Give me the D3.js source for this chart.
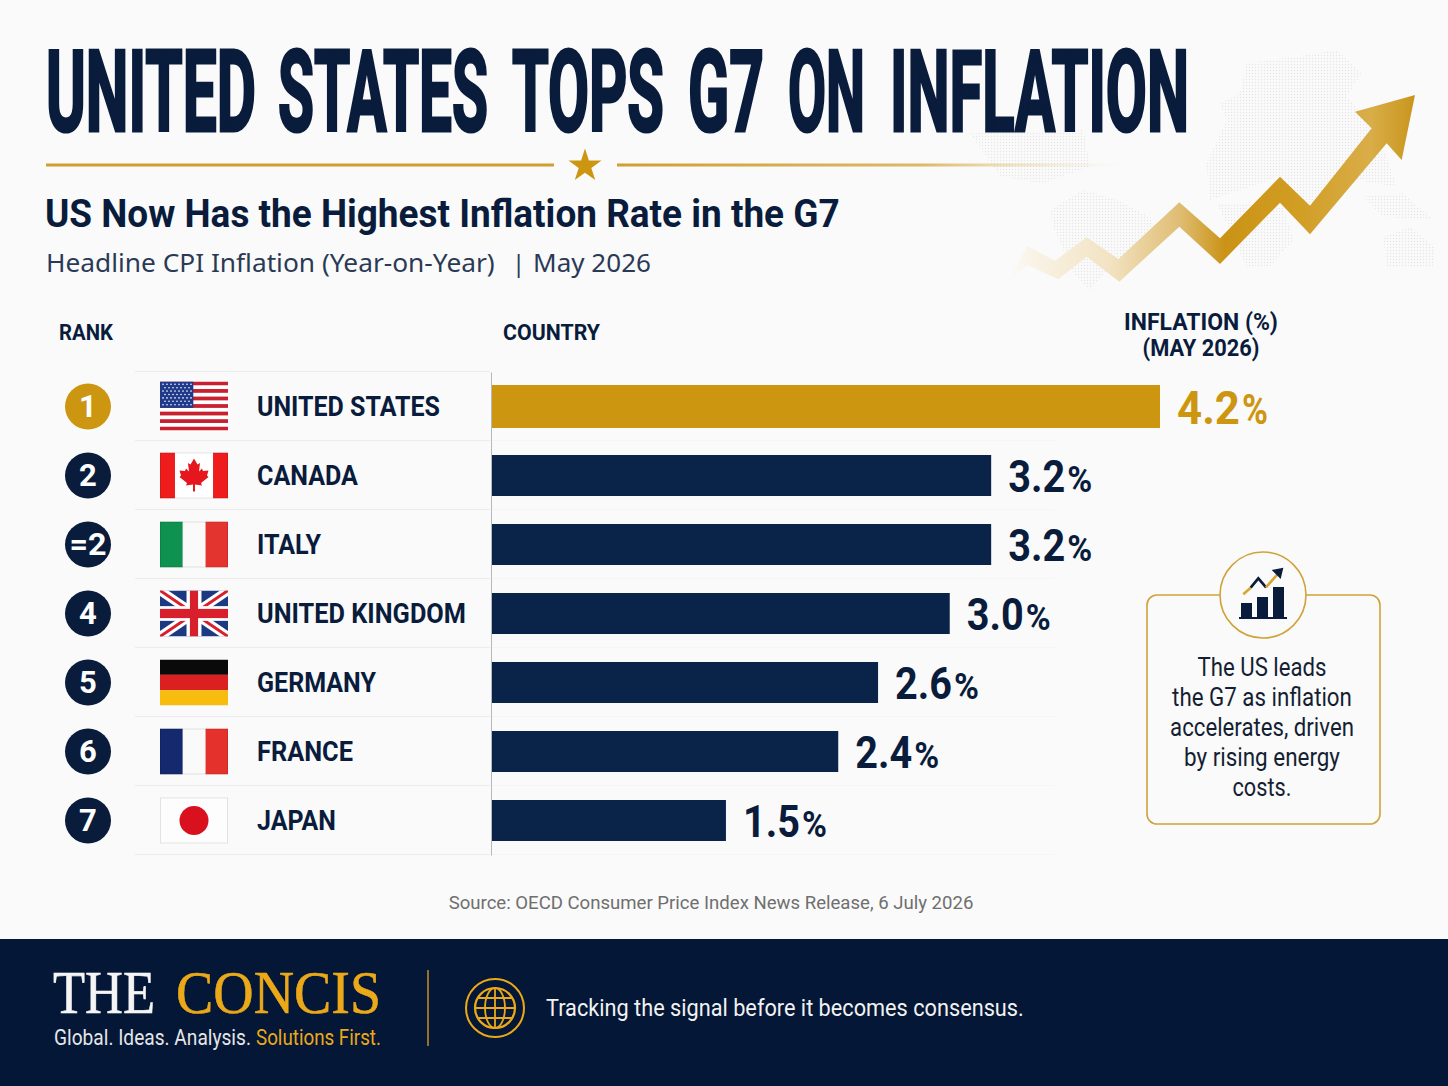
<!DOCTYPE html>
<html>
<head>
<meta charset="utf-8">
<script src="https://cdnjs.cloudflare.com/ajax/libs/d3/7.8.5/d3.min.js"></script>
<style>
   html, body { margin: 0; padding: 0; background: #fafafa; }
   svg { display: block; }
   text { font-family: Roboto, sans-serif; }
</style>
</head>
<body>
<script>
var ranks = ["1", "2", "=2", "4", "5", "6", "7"];
var countries = ["UNITED STATES", "CANADA", "ITALY", "UNITED KINGDOM", "GERMANY", "FRANCE", "JAPAN"];
var countryWidths = [183, 101, 64, 209, 119, 96, 79];
var flags = ["us", "ca", "it", "uk", "de", "fr", "jp"];
// printed labels
var inflation = [4.2, 3.2, 3.2, 3.0, 2.6, 2.4, 1.5];
// the drawn bars in the picture are not quite in proportion to their labels,
// these are the lengths, in the same percent units
var barLengths = [4.2, 3.14, 3.14, 2.88, 2.43, 2.18, 1.475];
var calloutLines = ["The US leads", "the G7 as inflation", "accelerates, driven", "by rising energy", "costs."];
var calloutWidths = [129, 180, 184, 156, 59];
var titleWords = ["UNITED", "STATES", "TOPS", "G7", "ON", "INFLATION"];
var titleStarts = [46, 278, 512, 688, 788, 890];
var titleWidths = [210, 210, 152, 76, 77, 299];

var navy = "#0a2348", ink = "#0a1c3c", gold = "#cd9610";
var noto = "'Noto Sans', sans-serif", serif = "'Liberation Serif', serif";
var width = 1448, height = 1086;

var svg = d3.select("body").append("svg")
   .attr("width", width)
   .attr("height", height);
var defs = svg.append("defs");

svg.append("rect").attr("width", width).attr("height", height).style("fill", "#fafafa");

// draw a text and squeeze it to the width it has in the picture
function label(parent, x, y, str, size, weight, color, fit, anchor, family) {
   var t = parent.append("text")
      .style("font-size", size + "px")
      .style("font-weight", weight)
      .style("fill", color)
      .attr("text-anchor", anchor || "start")
      .text(str);
   if (family) t.style("font-family", family);
   squeeze(t, x, y, fit);
   return t;
}
function squeeze(t, x, y, fit) {
   var k = fit ? fit / t.node().getComputedTextLength() : 1;
   t.attr("transform", "translate(" + x + "," + y + ") scale(" + k + ",1)");
}

/* ---------- dotted map behind the arrow ---------- */
var dots = defs.append("pattern").attr("id", "dots")
   .attr("width", 3).attr("height", 3).attr("patternUnits", "userSpaceOnUse");
dots.append("circle").attr("cx", 1.5).attr("cy", 1.5).attr("r", 0.65).style("fill", "#c4c7cc");

var mapBlobs = [
   [[890,130],[1040,110],[1160,90],[1235,160],[1190,230],[1280,330],[1340,500],[1220,480],[1150,540],[1080,560],[990,470],[780,540],[770,430],[830,300],[810,250],[870,220]],
   [[800,550],[1000,560],[1030,660],[960,740],[890,745],[850,650]],
   [[1240,530],[1360,520],[1450,600],[1300,590]],
   [[1300,650],[1380,620],[1455,680],[1450,740],[1310,740]],
   [[300,570],[400,510],[500,540],[600,590],[620,640],[500,720],[420,810],[370,760],[310,620]],
   [[60,340],[400,330],[420,440],[280,490],[150,470]]
];
var crop = function (p) { return [950 + p[0] / 3, 20 + p[1] / 3]; };
var closedLine = d3.line().curve(d3.curveLinearClosed);
svg.append("g").style("opacity", 0.4).selectAll("path")
   .data(mapBlobs).enter().append("path")
   .attr("d", function (d) { return closedLine(d.map(crop)); })
   .style("fill", "url(#dots)");

/* ---------- rising arrow ---------- */
var arrowGrad = defs.append("linearGradient").attr("id", "arrowGrad")
   .attr("gradientUnits", "userSpaceOnUse")
   .attr("x1", 1005).attr("x2", 1416).attr("y1", 0).attr("y2", 0);
[[0, "#fbf8f0", 0], [0.06, "#f9f4e8", 1], [0.255, "#f2e3c2", 1], [0.425, "#dfbd73", 1],
 [0.535, "#ca9316", 1], [0.69, "#d09c20", 1], [0.89, "#d9ad48", 1], [1, "#c8951c", 1]].forEach(function (s) {
   arrowGrad.append("stop").attr("offset", s[0]).attr("stop-color", s[1]).attr("stop-opacity", s[2]);
});
var arrowOutline = [[170,790],[232,678],[315,722],[410,652],[505,717],[688,547],[810,655],[990,470],[1080,557],
   [1265,325],[1215,275],[1395,225],[1355,420],[1310,370],[1080,643],[990,548],[810,732],[688,620],[508,785],
   [410,710],[325,778],[232,735]];
svg.append("path").attr("d", closedLine(arrowOutline.map(crop))).style("fill", "url(#arrowGrad)");

/* ---------- heading ---------- */
titleWords.forEach(function (w, i) {
   label(svg, titleStarts[i], 130.5, w, 114, 700, ink, titleWidths[i], "start", "'Liberation Sans Narrow', Roboto, sans-serif")
      .style("stroke", ink).style("stroke-width", 3.2).style("stroke-linejoin", "miter");
});

var ruleGrad = defs.append("linearGradient").attr("id", "ruleGrad");
ruleGrad.append("stop").attr("offset", 0).attr("stop-color", "#cf9f30");
ruleGrad.append("stop").attr("offset", 0.6).attr("stop-color", "#dcb867");
ruleGrad.append("stop").attr("offset", 1).attr("stop-color", "#f3e6c8").attr("stop-opacity", 0);
svg.append("rect").attr("x", 46).attr("y", 163.5).attr("width", 508).attr("height", 3).style("fill", "#cf9f30");
svg.append("rect").attr("x", 617).attr("y", 163.5).attr("width", 510).attr("height", 3).style("fill", "url(#ruleGrad)");
svg.append("path")
   .attr("d", d3.symbol().type(d3.symbolStar).size(340)())
   .attr("transform", "translate(585,166)")
   .style("fill", gold);

label(svg, 45, 227, "US Now Has the Highest Inflation Rate in the G7", 38, 700, ink, 795);
label(svg, 46, 272, "Headline CPI Inflation (Year-on-Year)", 25, 400, "#2a3a56", 449, "start", noto);
label(svg, 512, 272, "|", 24, 400, "#2a3a56", null, "start", noto);
label(svg, 533, 272, "May 2026", 25, 400, "#2a3a56", 118, "start", noto);

/* ---------- table header ---------- */
label(svg, 59, 340, "RANK", 22, 700, ink, 54);
label(svg, 503, 340, "COUNTRY", 22, 700, ink, 97);
label(svg, 1201, 330, "INFLATION (%)", 24, 700, ink, 154, "middle");
label(svg, 1201, 356, "(MAY 2026)", 24, 700, ink, 117, "middle");

/* ---------- scales ---------- */
var x = d3.scaleLinear().domain([0, 4.2]).range([491, 1160]);
var y = d3.scaleBand().domain(countries).range([372, 855]);

// row separators
var seps = d3.range(countries.length + 1).map(function (i) { return 372 + i * y.step() - 0.5; });
svg.append("g").selectAll("line").data(seps).enter().append("line")
   .attr("x1", 135).attr("x2", 490)
   .attr("y1", function (d) { return d; }).attr("y2", function (d) { return d; })
   .style("stroke", "#ececec");
svg.append("g").selectAll("line").data(seps.slice(1)).enter().append("line")
   .attr("x1", 491).attr("x2", 1055)
   .attr("y1", function (d) { return d; }).attr("y2", function (d) { return d; })
   .style("stroke", "#f5f5f5");

// bars
var barH = function (i) { return i === 0 ? 43 : 41; };
svg.append("g").selectAll("rect").data(barLengths).enter().append("rect")
   .attr("x", x(0))
   .attr("y", function (d, i) { return y(countries[i]) + y.bandwidth() / 2 - barH(i) / 2; })
   .attr("width", function (d) { return x(d) - x(0); })
   .attr("height", function (d, i) { return barH(i); })
   .style("fill", function (d, i) { return i === 0 ? gold : navy; });

// axis line down the left of the bars, no ticks
svg.append("g").attr("transform", "translate(491,0)")
   .call(d3.axisLeft(y).tickSize(0).tickFormat(""))
   .call(function (g) { g.select(".domain").style("stroke", "#b5b8bd").style("stroke-width", 1); });

// rows
var rows = svg.append("g").selectAll("g").data(countries).enter().append("g")
   .attr("transform", function (d) { return "translate(0," + (y(d) + y.bandwidth() / 2) + ")"; });

rows.append("circle").attr("cx", 88).attr("r", 23)
   .style("fill", function (d, i) { return i === 0 ? gold : ink; });

var fmt = d3.format(".1f");
rows.each(function (d, i) {
   var row = d3.select(this);
   label(row, 88, 10.5, ranks[i], 31, 700, "#fff", ranks[i].length > 1 ? 37 : null, "middle");
   label(row, 257, 9.5, d, 28, 700, ink, countryWidths[i]);
   // value label: number and % sign are squeezed separately
   var lx = x(barLengths[i]) + 17;
   var ly = i === 0 ? 17 : 16.5;
   var col = i === 0 ? gold : ink;
   label(row, lx, ly, fmt(inflation[i]), i === 0 ? 46 : 44, 700, col, i === 0 ? 63 : 57);
   label(row, lx + (i === 0 ? 65 : 59), ly, "%", i === 0 ? 42 : 36, 700, col, i === 0 ? 26 : 25);
});

/* ---------- flags ---------- */
function drawFlag(g, code) {
   var W = 68, H = code === "us" ? 49 : 46, x0 = 160, y0 = code === "us" ? -25 : -23;
   var id = "clip-" + code;
   defs.append("clipPath").attr("id", id).append("rect").attr("x", x0).attr("y", y0).attr("width", W).attr("height", H);
   var f = g.append("g").attr("clip-path", "url(#" + id + ")");
   var box = function (fx, fy, fw, fh, col) {
      f.append("rect").attr("x", x0 + fx * W).attr("y", y0 + fy * H).attr("width", fw * W).attr("height", fh * H).style("fill", col);
   };
   var edge = function () {
      g.append("rect").attr("x", x0 + 0.5).attr("y", y0 + 0.5).attr("width", W - 1).attr("height", H - 1)
         .style("fill", "none").style("stroke", "#000").style("stroke-opacity", 0.1);
   };
   if (code === "us") {
      box(0, 0, 1, 1, "#fff");
      d3.range(0, 13, 2).forEach(function (i) { box(0, i / 13, 1, 1 / 13, "#c8202f"); });
      box(0, 0, 0.49, 7 / 13, "#1f3a8a");
      d3.range(7).forEach(function (r) {
         d3.range(r % 2 ? 7 : 8).forEach(function (c) {
            f.append("circle").attr("cx", x0 + 3 + (r % 2 ? 2 : 0) + c * 4).attr("cy", y0 + 2.8 + r * 3.4).attr("r", 0.8).style("fill", "#fff");
         });
      });
   } else if (code === "ca") {
      box(0, 0, 1, 1, "#fff");
      box(0, 0, 0.22, 1, "#ee1c1c");
      box(0.78, 0, 0.22, 1, "#ee1c1c");
      var half = [[0,-17],[3.5,-11],[6,-12.5],[5,-4],[8,-7],[9,-4.5],[14.5,-5],[13,0],[14.5,1.5],[7,7.5],[8,10],[1,9],[1,16]];
      var leaf = half.concat(half.slice(1).reverse().map(function (p) { return [-p[0], p[1]]; }));
      f.append("path").attr("d", closedLine(leaf)).attr("transform", "translate(" + (x0 + W / 2) + ",0)").style("fill", "#e5161d");
      edge();
   } else if (code === "it") {
      box(0, 0, 0.335, 1, "#0f9150");
      box(0.335, 0, 0.335, 1, "#fafafa");
      box(0.67, 0, 0.33, 1, "#e3342f");
      edge();
   } else if (code === "uk") {
      box(0, 0, 1, 1, "#1c3a82");
      var diag = function (col, w) {
         [[0, 0, W, H], [W, 0, 0, H]].forEach(function (l) {
            f.append("line").attr("x1", x0 + l[0]).attr("y1", y0 + l[1]).attr("x2", x0 + l[2]).attr("y2", y0 + l[3])
               .style("stroke", col).style("stroke-width", w);
         });
      };
      diag("#fff", 9);
      diag("#d8202c", 3);
      box(0, 0.34, 1, 0.32, "#fff");
      box(0.39, 0, 0.22, 1, "#fff");
      box(0, 0.4, 1, 0.2, "#d8202c");
      box(0.44, 0, 0.12, 1, "#d8202c");
   } else if (code === "de") {
      box(0, 0, 1, 1 / 3, "#0a0a0a");
      box(0, 1 / 3, 1, 1 / 3, "#dc1f1f");
      box(0, 2 / 3, 1, 1 / 3, "#f6bd0e");
   } else if (code === "fr") {
      box(0, 0, 0.335, 1, "#14296e");
      box(0.335, 0, 0.335, 1, "#fafafa");
      box(0.67, 0, 0.33, 1, "#e4312b");
      edge();
   } else if (code === "jp") {
      box(0, 0, 1, 1, "#fdfdfd");
      f.append("circle").attr("cx", x0 + W / 2).attr("cy", 0).attr("r", 14.5).style("fill", "#d9101e");
      edge();
   }
}
rows.each(function (d, i) { drawFlag(d3.select(this), flags[i]); });

/* ---------- callout ---------- */
svg.append("rect").attr("x", 1147).attr("y", 595).attr("width", 233).attr("height", 229).attr("rx", 10)
   .style("fill", "#fafafa").style("stroke", "#d0a23a").style("stroke-width", 1.6);
svg.append("circle").attr("cx", 1263).attr("cy", 595).attr("r", 43)
   .style("fill", "#fafafa").style("stroke", "#d0a23a").style("stroke-width", 1.6);

var icon = svg.append("g");
[[1241, 603, 11], [1257, 597, 11], [1273, 587, 11]].forEach(function (b) {
   icon.append("rect").attr("x", b[0]).attr("y", b[1]).attr("width", b[2]).attr("height", 617 - b[1]).style("fill", ink);
});
icon.append("rect").attr("x", 1239).attr("y", 617).attr("width", 48).attr("height", 2).style("fill", ink);
var cropIcon = function (p) { return [1130 + p[0] / 3, 540 + p[1] / 3]; };
var openLine = d3.line();
icon.append("path").attr("d", openLine([[340,163],[362,143]].map(cropIcon))).style("stroke", "#d8a630").style("stroke-width", 2.6).style("fill", "none");
icon.append("path").attr("d", openLine([[362,143],[385,115],[408,142]].map(cropIcon))).style("stroke", ink).style("stroke-width", 2.6).style("fill", "none");
icon.append("path").attr("d", openLine([[408,142],[445,100]].map(cropIcon))).style("stroke", "#d8a630").style("stroke-width", 2.6).style("fill", "none");
icon.append("path").attr("d", closedLine([[460,83],[425,90],[452,117]].map(cropIcon))).style("fill", ink);

calloutLines.forEach(function (d, i) {
   label(svg, 1262, 676 + i * 30, d, 25, 400, "#151f33", calloutWidths[i], "middle");
});

/* ---------- source ---------- */
label(svg, 711, 909, "Source: OECD Consumer Price Index News Release, 6 July 2026", 19, 400, "#6f6f6f", 525, "middle");

/* ---------- footer ---------- */
svg.append("rect").attr("x", 0).attr("y", 939).attr("width", width).attr("height", height - 939).style("fill", "#041736");

label(svg, 53, 1013, "THE", 62, 400, "#f5f5f5", 102, "start", serif).style("stroke", "#f5f5f5").style("stroke-width", 0.6);
label(svg, 176, 1013, "CONCIS", 62, 400, "#eba91a", 205, "start", serif).style("stroke", "#eba91a").style("stroke-width", 0.6);
label(svg, 54, 1045, "Global. Ideas. Analysis.", 22, 400, "#e6e6e6", 197);
label(svg, 256, 1045, "Solutions First.", 22, 400, "#eba91a", 125);

svg.append("line").attr("x1", 428).attr("x2", 428).attr("y1", 970).attr("y2", 1046)
   .style("stroke", "#c2912a").style("stroke-width", 1.5);

var globe = svg.append("g").attr("transform", "translate(495,1008)")
   .style("fill", "none").style("stroke", "#eba91a");
globe.append("circle").attr("r", 29).style("stroke-width", 2);
globe.append("circle").attr("r", 20).style("stroke-width", 2.2);
globe.append("ellipse").attr("rx", 10).attr("ry", 20).style("stroke-width", 1.8);
globe.append("line").attr("y1", -20).attr("y2", 20).style("stroke-width", 1.8);
globe.append("line").attr("x1", -20).attr("x2", 20).style("stroke-width", 1.8);
globe.append("line").attr("x1", -17).attr("x2", 17).attr("y1", -10).attr("y2", -10).style("stroke-width", 1.8);
globe.append("line").attr("x1", -17).attr("x2", 17).attr("y1", 10).attr("y2", 10).style("stroke-width", 1.8);

label(svg, 546, 1016, "Tracking the signal before it becomes consensus.", 24, 400, "#f2f2f2", 478);
</script>
</body>
</html>
